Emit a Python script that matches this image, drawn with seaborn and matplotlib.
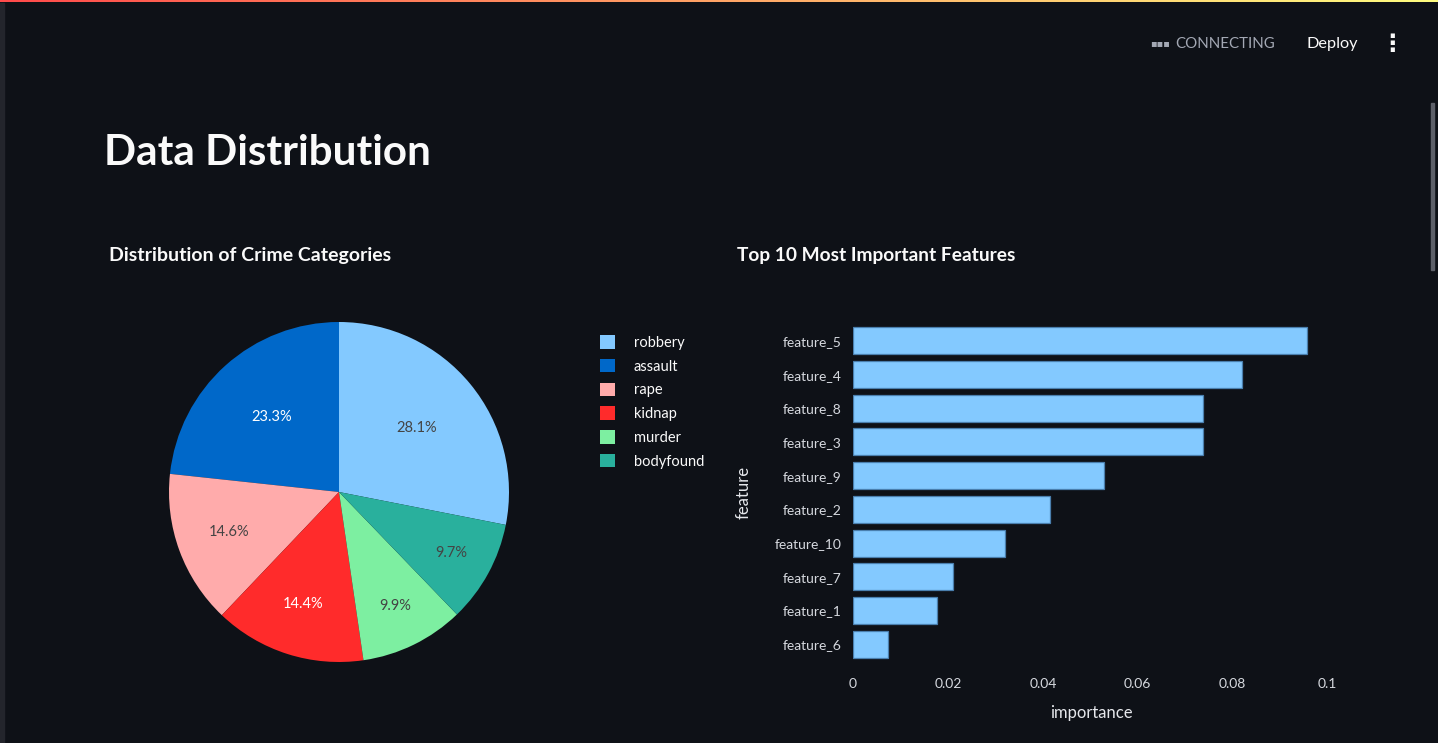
import numpy as np
import pandas as pd
import seaborn as sns
import matplotlib.pyplot as plt
from matplotlib.patches import Rectangle

# crime category shares (percent)
categories = ["robbery", "assault", "rape", "kidnap", "murder", "bodyfound"]
shares = [28.1, 23.3, 14.6, 14.4, 9.9, 9.7]
pie_colors = ["#83C9FF", "#0068C9", "#FFABAB", "#FF2B2B", "#7DEFA1", "#29B09D"]
pct_text_colors = ["#444444", "#ffffff", "#444444", "#ffffff", "#444444", "#444444"]

# feature importances
features = ["feature_5", "feature_4", "feature_8", "feature_3", "feature_9",
            "feature_2", "feature_10", "feature_7", "feature_1", "feature_6"]
importance = [0.0956, 0.0820, 0.0738, 0.0737, 0.0528,
              0.0415, 0.0321, 0.0211, 0.0176, 0.0073]
xticks = [0, 0.02, 0.04, 0.06, 0.08, 0.1]
xtick_labels = ["0", "0.02", "0.04", "0.06", "0.08", "0.1"]

BG = "#0E1117"
W, H = 1438, 743

sns.set_theme(style="dark")
plt.rcParams["font.family"] = ["Lato", "DejaVu Sans"]
plt.rcParams["axes.facecolor"] = BG
plt.rcParams["figure.facecolor"] = BG


def box(x0, y0, x1, y1):
    # pixel box (top-left origin) -> figure fraction rect
    return [x0 / W, 1 - y1 / H, (x1 - x0) / W, (y1 - y0) / H]


fig = plt.figure(figsize=(W / 100, H / 100), dpi=100)

# page chrome: top gradient, left strip, scrollbar
grad = fig.add_axes(box(0, 0, W, 2.5))
grad.imshow(np.linspace(0, 1, 256)[None, :], aspect="auto",
            cmap=sns.blend_palette(["#FF4B4B", "#FFFD80"], as_cmap=True))
grad.set_axis_off()
fig.patches.append(Rectangle((0, 0), 4 / W, 1 - 2.5 / H, transform=fig.transFigure,
                             color="#23252c", zorder=0))
fig.patches.append(Rectangle((1431 / W, 1 - 270 / H), 2.5 / W, 167 / H,
                             transform=fig.transFigure, color="#5d6069", zorder=0))

fig.text(1150 / W, 1 - 43 / H, "▪▪▪", color="#A3A8B4", fontsize=7,
         va="center", ha="left", family="DejaVu Sans")
fig.text(1175 / W, 1 - 44 / H, "CONNECTING", color="#A3A8B4", fontsize=10.8,
         va="center", ha="left")
fig.text(1307 / W, 1 - 44 / H, "Deploy", color="#FAFAFA", fontsize=11.7,
         va="center", ha="left")
fig.text(1392 / W, 1 - 44 / H, "⋮", color="#FAFAFA", fontsize=17, fontweight="bold",
         va="center", ha="center", family="DejaVu Sans")

fig.text(104 / W, 1 - 153 / H, "Data Distribution", color="#FAFAFA", fontsize=30.4,
         fontweight="bold", va="center", ha="left")
fig.text(109 / W, 1 - 255 / H, "Distribution of Crime Categories", color="#FAFAFA",
         fontsize=14, fontweight="bold", va="center", ha="left")
fig.text(737 / W, 1 - 255 / H, "Top 10 Most Important Features", color="#FAFAFA",
         fontsize=13.8, fontweight="bold", va="center", ha="left")

# ---- pie ----
cx, cy, r = 339, 492, 170
ax1 = fig.add_axes(box(cx - r, cy - r, cx + r, cy + r))
start = 90 - 360 * shares[0] / sum(shares)
wedges, _, autotexts = ax1.pie(shares, colors=pie_colors, startangle=start,
                               counterclock=True, autopct="%1.1f%%", pctdistance=0.6,
                               radius=1, wedgeprops=dict(linewidth=0))
label_r = [0.59, 0.59, 0.69, 0.69, 0.75, 0.75]
for t, c, rr in zip(autotexts, pct_text_colors, label_r):
    x, y = t.get_position()
    t.set_position((x * rr / 0.6, y * rr / 0.6))
    t.set_color(c)
    t.set_fontsize(10.5)
ax1.set_xlim(-1, 1)
ax1.set_ylim(-1, 1)
ax1.set_aspect("equal")

fig.legend(wedges, categories, loc="upper left",
           bbox_to_anchor=(600 / W, 1 - 335 / H), frameon=False,
           fontsize=10.5, labelcolor="#FAFAFA", handlelength=1.05, handleheight=1.05,
           handletextpad=1.25, labelspacing=0.62, borderaxespad=0, borderpad=0)

# ---- bars ----
ax2 = fig.add_axes(box(853, 324, 1330, 661))
df = pd.DataFrame({"feature": features, "importance": importance})
sns.barplot(data=df, x="importance", y="feature", orient="h", color="#83C9FF",
            saturation=1, width=0.8, edgecolor="#4a7fae", linewidth=0.9, ax=ax2)
ax2.set_xlim(0, 0.1005)
ax2.set_ylim(9.5, -0.5)
ax2.set_xticks(xticks)
ax2.set_xticklabels(xtick_labels)
ax2.tick_params(axis="both", length=0, colors="#D5D8DE", labelsize=10)
ax2.tick_params(axis="x", pad=12)
ax2.tick_params(axis="y", pad=8)
for s in ax2.spines.values():
    s.set_visible(False)
ax2.grid(False)
ax2.set_xlabel("importance", color="#E6E8EC", fontsize=12)
ax2.set_ylabel("feature", color="#E6E8EC", fontsize=12)
ax2.xaxis.set_label_coords(0.5, -0.13)
ax2.yaxis.set_label_coords(-0.213, 0.5)

fig.savefig("out.png", dpi=100, facecolor=BG)
